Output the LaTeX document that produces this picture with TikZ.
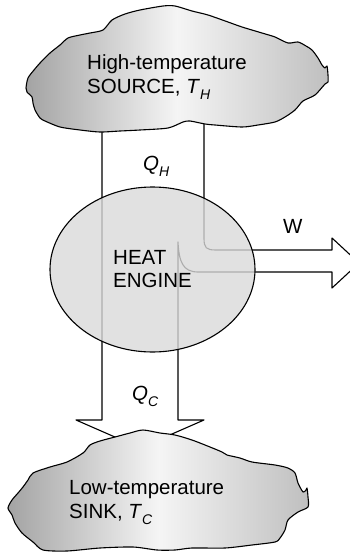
\documentclass[tikz,border=0pt]{standalone}
\usepackage{fontspec}
\setmainfont{Liberation Sans}
\usetikzlibrary{shapes.geometric}
\definecolor{cloudL}{gray}{0.64}
\definecolor{cloudM}{gray}{0.96}
\definecolor{cloudR}{gray}{0.75}
\definecolor{engfill}{gray}{0.85}
\newcommand{\subit}[1]{\raisebox{-0.3em}{\fontsize{14}{14}\selectfont\itshape #1}}
\begin{document}
\begin{tikzpicture}[x=1pt,y=-1pt, line join=round,
  outline/.style={draw=black, line width=1.1pt},
  cloudshape/.style={outline, left color=cloudL, right color=cloudR, middle color=cloudM},
  lbl/.style={font=\fontsize{20.5}{24}\selectfont, inner sep=0pt, anchor=base west, align=left},
]
\clip (0,0) rectangle (350,552);
% flow outline (Q_H in, W out, Q_C out)
\coordinate (qhL) at (102,118);
\coordinate (qhR) at (204,118);
\coordinate (qcHeadL) at (76,420);
\coordinate (qcTip) at (140,448);
\coordinate (qcHeadR) at (204,420);
\coordinate (wTip) at (359,263);
\draw[outline] (qhL) -- (102,420) -- (qcHeadL) -- (qcTip) -- (qcHeadR) -- (178,420) -- (178,242)
  .. controls (179,262) and (183,272) .. (198,272) -- (332,272) -- (332,288) -- (wTip)
  -- (332,238) -- (332,250) -- (216,250) .. controls (206,250) and (204,248) .. (204,238) -- (qhR);
% engine
\node[ellipse, outline, fill=engfill, fill opacity=0.8, text opacity=1, inner sep=0pt,
      minimum width=205pt, minimum height=165pt, align=left,
      font=\fontsize{20.5}{23}\selectfont] (engine) at (152.5,269.5) {HEAT\\ENGINE};
% clouds
\path[cloudshape] plot[smooth cycle, tension=0.45] coordinates {
 (26,88) (28,78) (34,70) (40,63) (50,53) (60,45) (68,38) (80,35) (90,33) (103,30) (112,20)
 (125,14) (140,10) (163,6) (175,6) (192,11) (208,15) (228,22) (242,27) (262,33) (275,37)
 (288,43) (298,42) (306,46) (312,50) (318,58) (322,65) (325,68) (327,66) (328,75) (328,82)
 (325,84) (315,95) (303,101) (295,110) (285,117) (275,122) (258,125) (242,127) (215,125)
 (205,124) (190,121) (183,122) (168,128) (140,130) (120,131) (100,132) (80,130) (60,127)
 (45,121) (40,118) (35,110) (33,103) (32,97) (27,92)};
\path[cloudshape] plot[smooth cycle, tension=0.45] coordinates {
 (8,508) (12,500) (18,493) (23,487) (28,480) (33,473) (50,467) (67,462) (83,453) (90,445)
 (100,441) (115,437) (130,433) (143,430) (160,433) (175,435) (192,440) (210,447) (222,452)
 (227,455) (240,458) (252,462) (275,465) (288,468) (295,473) (298,483) (303,492) (306,490)
 (307,488) (308,497) (308,507) (298,512) (288,520) (285,530) (280,538) (275,542) (252,545)
 (225,548) (192,548) (175,550) (157,550) (133,547) (100,548) (67,551) (43,550) (33,542)
 (22,533) (15,523) (12,515)};
% labels (base anchor = baseline of the last line)
\node[lbl] (source) at (87,93) {High-temperature\\SOURCE, \textit{T}\subit{H}};
\node[lbl] (sink) at (69,518) {Low-temperature\\SINK, \textit{T}\subit{C}};
\node[lbl] (qh) at (143,170) {\textit{Q}\subit{H}};
\node[lbl] (qc) at (132,400) {\textit{Q}\subit{C}};
\node[lbl] (w) at (283,233) {W};
\end{tikzpicture}
\end{document}
